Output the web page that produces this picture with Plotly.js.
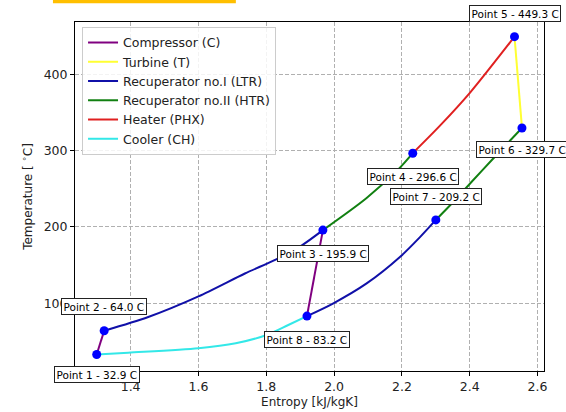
<!DOCTYPE html>
<html>
<head>
<meta charset="utf-8">
<script src="https://cdn.plot.ly/plotly-3.0.1.min.js"></script>
<style>html,body{margin:0;padding:0;background:#fff;}#chart{width:566px;height:412px;}</style>
</head>
<body>
<div id="chart"></div>
<script>
// State points
const pointNames = ["Point 1", "Point 2", "Point 3", "Point 4", "Point 5", "Point 6", "Point 7", "Point 8"];
const pointS = [1.300, 1.322, 1.967, 2.232, 2.532, 2.554, 2.300, 1.920];
const pointT = [32.9, 64.0, 195.9, 296.6, 449.3, 329.7, 209.2, 83.2];

// Processes (null separates two branches of the same component)
const compS = [1.300, 1.322, null, 1.920, 1.967];
const compT = [32.9, 64.0, null, 83.2, 195.9];

const turbS = [2.532, 2.554];
const turbT = [449.3, 329.7];

const ltrS = [1.322, 1.452, 1.600, 1.737, 1.831, 1.905, 1.967, null, 1.920, 1.998, 2.096, 2.195, 2.254, 2.300];
const ltrT = [64.0, 82, 109, 139, 158, 176, 195.9, null, 83.2, 100, 126, 161, 187, 209.2];

const htrS = [1.967, 2.096, 2.195, 2.232, null, 2.300, 2.350, 2.401, 2.470, 2.554];
const htrT = [195.9, 238, 278, 296.6, null, 209.2, 232, 257, 290, 329.7];

const phxS = [2.232, 2.313, 2.401, 2.532];
const phxT = [296.6, 333, 376, 449.3];

const chS = [1.300, 1.393, 1.600, 1.710, 1.801, 1.865, 1.920];
const chT = [32.9, 35.3, 41, 47.6, 58.5, 71.6, 83.2];

const seriesNames = ["Compressor (C)", "Turbine (T)", "Recuperator no.I (LTR)", "Recuperator no.II (HTR)", "Heater (PHX)", "Cooler (CH)"];

const xTicks = [1.4, 1.6, 1.8, 2.0, 2.2, 2.4, 2.6];
const yTicks = [100, 200, 300, 400];

// Styles
const colors = ["#800080", "#ffff33", "#1010a8", "#118011", "#e02020", "#33e8e8"];
const shapes = ["linear", "linear", "spline", "spline", "spline", "spline"];
const seriesXY = [[compS, compT], [turbS, turbT], [ltrS, ltrT], [htrS, htrT], [phxS, phxT], [chS, chT]];

const traces = seriesXY.map((xy, i) => ({
  type: "scatter", mode: "lines", x: xy[0], y: xy[1], name: seriesNames[i],
  line: {color: colors[i], width: 2, shape: shapes[i], smoothing: 0.8}, connectgaps: false
}));
traces.push({
  type: "scatter", mode: "markers", x: pointS, y: pointT, showlegend: false,
  marker: {color: "#0000ff", size: 9}
});

const labelYShift = [-20, 24, -23, -23, 23, -22, 23, -23];
const annotations = pointNames.map((n, i) => ({
  x: pointS[i], y: pointT[i], xref: "x", yref: "y",
  text: n + " - " + pointT[i].toFixed(1) + " C",
  showarrow: false, yshift: labelYShift[i],
  bgcolor: "#ffffff", bordercolor: "#222", borderwidth: 1, borderpad: 1.5,
  font: {family: "DejaVu Sans", size: 10.5, color: "#000"}
}));

const fontFam = "DejaVu Sans";
const layout = {
  width: 566, height: 412,
  margin: {l: 75, r: 22, t: 22, b: 41},
  paper_bgcolor: "#fff", plot_bgcolor: "#fff",
  font: {family: fontFam, size: 12, color: "#222"},
  showlegend: true,
  legend: {
    x: 0.015, y: 0.986, xanchor: "left", yanchor: "top",
    bgcolor: "rgba(255,255,255,0.85)", bordercolor: "#cccccc", borderwidth: 1,
    font: {family: fontFam, size: 12.5, color: "#222"}
  },
  xaxis: {
    range: [1.236, 2.619], tickvals: xTicks, ticktext: xTicks.map(v => v.toFixed(1)),
    showline: true, linecolor: "#000", linewidth: 1, mirror: true,
    ticks: "outside", ticklen: 4, tickcolor: "#000",
    showgrid: true, gridcolor: "#b0b0b0", griddash: "4px,2px", gridwidth: 1,
    zeroline: false, tickfont: {size: 12.5},
    title: {text: "Entropy [kJ/kgK]", font: {family: fontFam, size: 12, color: "#222"}, standoff: 4}
  },
  yaxis: {
    range: [11.3, 468.5], tickvals: yTicks,
    showline: true, linecolor: "#000", linewidth: 1, mirror: true,
    ticks: "outside", ticklen: 4, tickcolor: "#000",
    showgrid: true, gridcolor: "#b0b0b0", griddash: "4px,2px", gridwidth: 1,
    zeroline: false, tickfont: {size: 12.5},
    title: {text: "Temperature [ <sup>∘</sup>C]", font: {family: fontFam, size: 12, color: "#222"}, standoff: 8}
  },
  annotations: annotations,
  shapes: [{
    type: "rect", xref: "paper", yref: "paper",
    x0: -0.047, x1: 0.343, y0: 1.054, y1: 1.063,
    fillcolor: "#ffbf00", line: {width: 0}
  }]
};

Plotly.newPlot("chart", traces, layout, {displayModeBar: false, staticPlot: true});
</script>
</body>
</html>
